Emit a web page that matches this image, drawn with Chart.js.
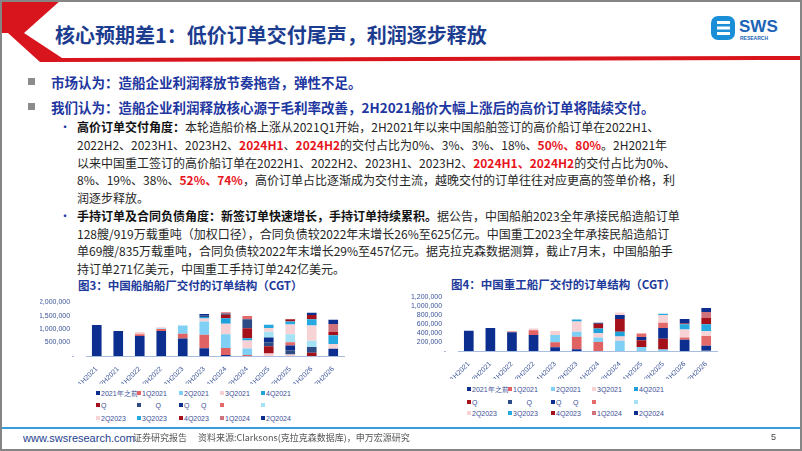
<!DOCTYPE html>
<html lang="zh">
<head>
<meta charset="UTF-8">
<title>核心预期差1：低价订单交付尾声，利润逐步释放</title>
<script src="https://cdn.jsdelivr.net/npm/chart.js@4"></script>
<style>
  body { margin: 0; background: #fff; font-family: "Noto Sans CJK SC", "Noto Sans", sans-serif; }
  #slide { position: relative; width: 802px; height: 451px; overflow: hidden; background: #fff; }
  .abs { position: absolute; white-space: pre; }
  .title { left: 55px; top: 22px; font-size: 20px; line-height: 26px; font-weight: 700; color: #1c3d8f; }
  .head { left: 51px; font-size: 13.5px; line-height: 20px; font-weight: 700; color: #1d36a0; }
  .sq { width: 7px; height: 7px; background: #8c8c8c; left: 28px; }
  .body { left: 77px; font-size: 12px; line-height: 18px; color: #262626; }
  .body b { color: #111; }
  .red { color: #e8141b; font-weight: 700; }
  .dot { left: 59px; font-size: 12px; line-height: 18px; color: #1d36a0; }
  .ctitle { font-size: 11.5px; line-height: 16px; font-weight: 700; color: #1d3a9a; }
  .leg { position: absolute; font-family: "Liberation Sans", Arial, sans-serif; font-size: 7px; line-height: 9px; color: #3b4f95; white-space: pre; }
  .leg i { display: inline-block; width: 3.5px; height: 3.5px; margin-right: 1.5px; vertical-align: 1px; }
  .foot { font-size: 9px; line-height: 12px; color: #555; }
  canvas { position: absolute; }
</style>
</head>
<body>
<div id="slide">
  <!-- header decoration -->
  <svg class="abs" style="left:0;top:0" width="802" height="64">
    <polygon points="0,0 61,0 24,33 0,33" fill="#d8141c"/>
    <polygon points="8,33 24,33 62,58 802,56 802,60 40,62" fill="#d8141c"/>
  </svg>
  <div class="abs title">核心预期差1：低价订单交付尾声，利润逐步释放</div>
  <svg class="abs" style="left:708px;top:13px" width="80" height="32">
    <rect x="3" y="3" width="24" height="24" rx="7" fill="#1a8fd8"/>
    <rect x="9" y="8" width="13" height="3" fill="#fff"/>
    <rect x="9" y="13.5" width="13" height="3" fill="#fff"/>
    <rect x="9" y="19" width="13" height="3" fill="#fff"/>
    <text x="31" y="19" font-family="Liberation Sans, Arial" font-weight="700" font-size="17" fill="#1b63b5">SWS</text>
    <text x="32" y="27" font-family="Liberation Sans, Arial" font-weight="700" font-size="5" fill="#1b63b5">RESEARCH</text>
  </svg>

  <div class="abs sq" style="top:78px"></div>
  <div class="abs head" style="top:72px">市场认为：造船企业利润释放节奏拖沓，弹性不足。</div>
  <div class="abs sq" style="top:103px"></div>
  <div class="abs head" style="top:97px">我们认为：造船企业利润释放核心源于毛利率改善，2H2021船价大幅上涨后的高价订单将陆续交付。</div>

  <div class="abs dot" style="top:118px">•</div>
  <div class="abs body" style="top:118px"><b>高价订单交付角度：</b>本轮造船价格上涨从2021Q1开始，2H2021年以来中国船舶签订的高价船订单在2022H1、</div>
  <div class="abs body" style="top:136px">2022H2、2023H1、2023H2、<span class="red">2024H1</span>、<span class="red">2024H2</span>的交付占比为0%、3%、3%、18%、<span class="red">50%、80%</span>。2H2021年</div>
  <div class="abs body" style="top:154px">以来中国重工签订的高价船订单在2022H1、2022H2、2023H1、2023H2、<span class="red">2024H1、2024H2</span>的交付占比为0%、</div>
  <div class="abs body" style="top:171px">8%、19%、38%、<span class="red">52%、74%</span>，高价订单占比逐渐成为交付主流，越晚交付的订单往往对应更高的签单价格，利</div>
  <div class="abs body" style="top:189px">润逐步释放。</div>

  <div class="abs dot" style="top:207px">•</div>
  <div class="abs body" style="top:207px"><b>手持订单及合同负债角度：新签订单快速增长，手持订单持续累积。</b>据公告，中国船舶2023全年承接民船造船订单</div>
  <div class="abs body" style="top:225px">128艘/919万载重吨（加权口径），合同负债较2022年末增长26%至625亿元。中国重工2023全年承接民船造船订</div>
  <div class="abs body" style="top:242px">单69艘/835万载重吨，合同负债较2022年末增长29%至457亿元。据克拉克森数据测算，截止7月末，中国船舶手</div>
  <div class="abs body" style="top:260px">持订单271亿美元，中国重工手持订单242亿美元。</div>

  <div class="abs ctitle" style="left:78px;top:277px">图3：中国船舶船厂交付的订单结构（CGT）</div>
  <div class="abs ctitle" style="left:451px;top:276px">图4：中国重工船厂交付的订单结构（CGT）</div>

  <canvas id="csscChart" width="306" height="90" style="left:40px;top:294px"></canvas>
  <canvas id="csicChart" width="316" height="90" style="left:405px;top:289px"></canvas>
  <div id="csscLegend"></div>
  <div id="csicLegend"></div>

  <!-- footer -->
  <div class="abs" style="left:0;top:427px;width:802px;height:2px;background:#3a9cd8"></div>
  <div class="abs" style="left:23px;top:431px;font-family:'Liberation Sans',Arial;font-size:11px;line-height:14px;color:#1f3f8f">www.swsresearch.com</div>
  <div class="abs foot" style="left:133px;top:432px">证券研究报告</div>
  <div class="abs foot" style="left:198px;top:432px">资料来源:Clarksons(克拉克森数据库)，申万宏源研究</div>
  <div class="abs" style="left:771px;top:432px;font-family:'Liberation Sans',Arial;font-size:9px;line-height:11px;color:#444">5</div>
  <div class="abs" style="left:0;top:0;width:802px;height:451px;box-sizing:border-box;border:2px solid #858585"></div>
</div>

<script>
// categories and series
const categories = ['1H2021', '2H2021', '1H2022', '2H2022', '1H2023', '2H2023', '1H2024', '2H2024', '1H2025', '2H2025', '1H2026', '2H2026'];
const seriesNames = ['2021年之前', '1Q2021', '2Q2021', '3Q2021', '4Q2021', '1Q2022', '2Q2022', '3Q2022', '4Q2022', '1Q2023', '2Q2023', '3Q2023', '4Q2023', '1Q2024', '2Q2024'];
// legend text as printed (middle row is broken in the source)
const legendText = ['2021年之前', '1Q2021', '2Q2021', '3Q2021', '4Q2021', 'Q', '       Q', 'Q      Q', '', '', '2Q2023', '3Q2023', '4Q2023', '1Q2024', '2Q2024'];
const seriesColors = ['#0c2e8e', '#e06262', '#7fd0f4', '#f7d0d3', '#1fa2dc', '#a5111b', '#2d4c86', '#0c2e8e', '#e36a6a', '#a6e2f6', '#f8d3d6', '#25a9e0', '#a5111b', '#d0727c', '#0c2e8e'];

// 中国船舶 CGT by order quarter
const cssc_pre2021 = [1150000, 930000, 740000, 930000, 650000, 290000, 40000, 0, 0, 0, 0, 0];
const cssc_1Q2021 = [0, 0, 70000, 70000, 180000, 500000, 260000, 40000, 0, 0, 0, 0];
const cssc_2Q2021 = [0, 0, 0, 20000, 300000, 490000, 510000, 240000, 0, 0, 0, 0];
const cssc_3Q2021 = [0, 0, 80000, 50000, 0, 110000, 390000, 300000, 90000, 60000, 0, 0];
const cssc_4Q2021 = [0, 0, 0, 0, 0, 60000, 200000, 80000, 0, 0, 0, 0];
const cssc_1Q2022 = [0, 0, 0, 0, 0, 0, 130000, 370000, 270000, 0, 120000, 0];
const cssc_2Q2022 = [0, 0, 0, 0, 0, 50000, 50000, 340000, 150000, 150000, 210000, 0];
const cssc_3Q2022 = [0, 0, 0, 0, 0, 60000, 0, 0, 180000, 180000, 0, 270000];
const cssc_4Q2022 = [0, 0, 0, 0, 0, 0, 50000, 120000, 0, 120000, 0, 0];
const cssc_1Q2023 = [0, 0, 0, 0, 0, 0, 0, 0, 215000, 300000, 240000, 0];
const cssc_2Q2023 = [0, 0, 0, 0, 0, 0, 0, 0, 140000, 357000, 560000, 180000];
const cssc_3Q2023 = [0, 0, 0, 0, 0, 0, 0, 0, 120000, 120000, 240000, 320000];
const cssc_4Q2023 = [0, 0, 0, 0, 0, 0, 0, 0, 0, 83000, 155000, 120000];
const cssc_1Q2024 = [0, 0, 0, 0, 0, 0, 0, 0, 0, 0, 0, 300000];
const cssc_2Q2024 = [0, 0, 0, 0, 0, 0, 0, 0, 0, 0, 85000, 160000];

// 中国重工 CGT by order quarter
const csic_pre2021 = [450000, 515000, 420000, 357000, 86000, 40000, 0, 0, 0, 0, 0, 0];
const csic_1Q2021 = [0, 0, 15000, 107000, 110000, 280000, 200000, 0, 0, 0, 0, 0];
const csic_2Q2021 = [0, 0, 0, 0, 160000, 110000, 100000, 229000, 90000, 36000, 0, 0];
const csic_3Q2021 = [0, 0, 10000, 36000, 88000, 230000, 94000, 93000, 0, 0, 0, 0];
const csic_4Q2021 = [0, 0, 0, 0, 0, 40000, 107000, 107000, 0, 0, 0, 0];
const csic_1Q2022 = [0, 0, 0, 0, 0, 0, 107000, 287000, 150000, 236000, 0, 0];
const csic_2Q2022 = [0, 0, 0, 0, 0, 0, 0, 0, 0, 0, 0, 10000];
const csic_3Q2022 = [0, 0, 0, 0, 0, 0, 22000, 85000, 70000, 243000, 250000, 107000];
const csic_4Q2022 = [0, 0, 0, 0, 0, 0, 0, 0, 80000, 115000, 50000, 215000];
const csic_1Q2023 = [0, 0, 0, 0, 0, 0, 0, 0, 0, 0, 0, 0];
const csic_2Q2023 = [0, 0, 0, 0, 0, 0, 0, 57000, 0, 171000, 180000, 107000];
const csic_3Q2023 = [0, 0, 0, 0, 0, 0, 0, 0, 0, 29000, 114000, 158000];
const csic_4Q2023 = [0, 0, 0, 0, 0, 0, 0, 0, 0, 0, 22000, 143000];
const csic_1Q2024 = [0, 0, 0, 0, 0, 0, 0, 0, 0, 0, 0, 128000];
const csic_2Q2024 = [0, 0, 0, 0, 0, 0, 0, 0, 0, 0, 100000, 93000];

const csscData = [cssc_pre2021, cssc_1Q2021, cssc_2Q2021, cssc_3Q2021, cssc_4Q2021, cssc_1Q2022, cssc_2Q2022, cssc_3Q2022, cssc_4Q2022, cssc_1Q2023, cssc_2Q2023, cssc_3Q2023, cssc_4Q2023, cssc_1Q2024, cssc_2Q2024];
const csicData = [csic_pre2021, csic_1Q2021, csic_2Q2021, csic_3Q2021, csic_4Q2021, csic_1Q2022, csic_2Q2022, csic_3Q2022, csic_4Q2022, csic_1Q2023, csic_2Q2023, csic_3Q2023, csic_4Q2023, csic_1Q2024, csic_2Q2024];

const axisBlue = '#3b5499';

function formatTick(value) {
    if (value === 0) return '-';
    return value.toLocaleString('en-US') + '  ';
}

function makeChart(id, rows, yMax, yStep, yWidth, padRight, padTop) {
    const ctx = document.getElementById(id).getContext('2d');
    return new Chart(ctx, {
        type: 'bar',
        data: {
            labels: categories,
            datasets: rows.map((values, i) => ({
                label: seriesNames[i],
                data: values,
                backgroundColor: seriesColors[i],
                borderWidth: 0,
                categoryPercentage: 0.8,
                barPercentage: 0.56
            }))
        },
        options: {
            responsive: false,
            animation: false,
            devicePixelRatio: 1,
            layout: { padding: { top: padTop, right: padRight, left: 0, bottom: 0 } },
            plugins: { legend: { display: false }, tooltip: { enabled: false } },
            scales: {
                x: {
                    stacked: true,
                    grid: { display: false },
                    border: { display: true, color: '#a9bde0', width: 1 },
                    ticks: {
                        color: axisBlue, font: { family: 'Liberation Sans', size: 7 },
                        minRotation: 45, maxRotation: 45, padding: 1, autoSkip: false
                    },
                    afterFit: s => { s.height = 28; }
                },
                y: {
                    stacked: true,
                    min: 0, max: yMax,
                    grid: { display: false },
                    border: { display: false },
                    ticks: {
                        stepSize: yStep, padding: 4, autoSkip: false, includeBounds: true,
                        color: axisBlue, font: { family: 'Liberation Sans', size: 7 },
                        callback: formatTick
                    },
                    afterBuildTicks: s => {
                        const t = [];
                        for (let v = 0; v <= yMax; v += yStep) t.push({ value: v });
                        s.ticks = t;
                    },
                    afterFit: s => { s.width = yWidth; }
                }
            }
        }
    });
}

function buildLegend(id, cols, rowsY) {
    const box = document.getElementById(id);
    let html = '';
    legendText.forEach((txt, i) => {
        const x = cols[i % 5], y = rowsY[Math.floor(i / 5)];
        html += `<div class="leg" style="left:${x}px;top:${y - 4.5}px"><i style="background:${seriesColors[i]}"></i>${txt}</div>`;
    });
    box.innerHTML = html;
}

makeChart('csscChart', csscData, 2000000, 500000, 46, 2, 6);
makeChart('csicChart', csicData, 1200000, 200000, 53, 4, 7);
buildLegend('csscLegend', [96, 137, 179, 220, 261], [393, 405, 418]);
buildLegend('csicLegend', [467, 508, 551, 592, 634], [389, 402, 413]);
</script>
</body>
</html>
